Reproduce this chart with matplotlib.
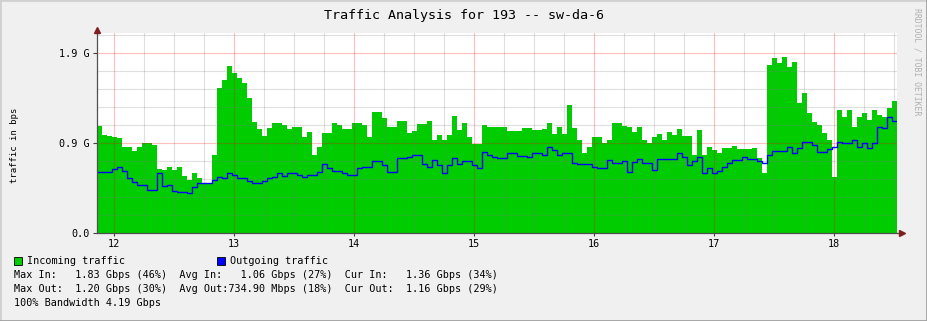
import matplotlib
matplotlib.use("Agg")
import matplotlib.pyplot as plt
import numpy as np

# data (Gbps), one sample every 2.5 minutes starting at 11:51
start_hour = 11.858
step_hour = 1 / 24

incoming = [1.11, 1.01, 1.00, 0.99, 0.98, 0.89, 0.89, 0.85, 0.89, 0.93,
            0.93, 0.91, 0.66, 0.65, 0.68, 0.65, 0.68, 0.59, 0.55, 0.62,
            0.57, 0.52, 0.52, 0.81, 1.50, 1.58, 1.73, 1.65, 1.60, 1.55,
            1.40, 1.15, 1.08, 1.00, 1.09, 1.14, 1.14, 1.12, 1.08, 1.10,
            1.10, 0.99, 1.04, 0.81, 0.89, 1.03, 1.03, 1.14, 1.12, 1.08,
            1.08, 1.14, 1.14, 1.12, 0.99, 1.25, 1.25, 1.19, 1.10, 1.10,
            1.16, 1.16, 1.03, 1.05, 1.13, 1.13, 1.16, 0.96, 1.01, 0.96,
            1.01, 1.21, 1.07, 1.14, 0.99, 0.92, 0.92, 1.12, 1.10, 1.10,
            1.10, 1.10, 1.05, 1.05, 1.05, 1.09, 1.09, 1.07, 1.07, 1.08,
            1.14, 1.02, 1.10, 1.02, 1.32, 1.09, 0.96, 0.83, 0.89, 0.99,
            0.99, 0.93, 0.96, 1.14, 1.14, 1.11, 1.10, 1.04, 1.10, 0.96,
            0.93, 0.99, 1.02, 0.96, 1.04, 1.01, 1.08, 1.00, 1.00, 0.81,
            1.07, 0.81, 0.89, 0.86, 0.83, 0.88, 0.88, 0.90, 0.87, 0.87,
            0.87, 0.88, 0.78, 0.62, 1.74, 1.81, 1.76, 1.82, 1.72, 1.77,
            1.34, 1.45, 1.24, 1.15, 1.12, 1.03, 0.96, 0.58, 1.27, 1.20,
            1.27, 1.10, 1.20, 1.24, 1.17, 1.27, 1.22, 1.20, 1.29, 1.36]

outgoing = [0.63, 0.63, 0.63, 0.66, 0.68, 0.64, 0.57, 0.53, 0.50, 0.50,
            0.44, 0.44, 0.62, 0.49, 0.50, 0.43, 0.42, 0.42, 0.41, 0.48,
            0.52, 0.52, 0.52, 0.55, 0.58, 0.57, 0.62, 0.60, 0.57, 0.57,
            0.54, 0.52, 0.52, 0.54, 0.57, 0.58, 0.62, 0.59, 0.62, 0.62,
            0.60, 0.58, 0.60, 0.60, 0.63, 0.71, 0.67, 0.64, 0.64, 0.62,
            0.60, 0.60, 0.67, 0.68, 0.68, 0.74, 0.74, 0.70, 0.63, 0.63,
            0.78, 0.78, 0.79, 0.81, 0.81, 0.71, 0.68, 0.75, 0.70, 0.62,
            0.70, 0.78, 0.71, 0.74, 0.74, 0.70, 0.67, 0.84, 0.81, 0.79,
            0.78, 0.78, 0.83, 0.83, 0.80, 0.80, 0.79, 0.83, 0.83, 0.81,
            0.89, 0.86, 0.81, 0.83, 0.83, 0.72, 0.71, 0.71, 0.71, 0.68,
            0.67, 0.67, 0.75, 0.72, 0.72, 0.74, 0.63, 0.73, 0.77, 0.72,
            0.72, 0.65, 0.77, 0.77, 0.77, 0.77, 0.83, 0.79, 0.70, 0.74,
            0.79, 0.62, 0.67, 0.62, 0.64, 0.68, 0.72, 0.75, 0.75, 0.79,
            0.77, 0.77, 0.74, 0.72, 0.81, 0.85, 0.85, 0.85, 0.89, 0.83,
            0.88, 0.94, 0.94, 0.91, 0.84, 0.84, 0.87, 0.89, 0.94, 0.93,
            0.93, 0.96, 0.89, 0.93, 0.88, 0.93, 1.10, 1.09, 1.20, 1.16]

hour_ticks = [12, 13, 14, 15, 16, 17, 18]
y_major = [0.0, 0.931, 1.861]
y_labels = ["0.0", "0.9 G", "1.9 G"]

legend_lines = [
    "Max In:   1.83 Gbps (46%)  Avg In:   1.06 Gbps (27%)  Cur In:   1.36 Gbps (34%)",
    "Max Out:  1.20 Gbps (30%)  Avg Out:734.90 Mbps (18%)  Cur Out:  1.16 Gbps (29%)",
    "100% Bandwidth 4.19 Gbps",
]

W, H = 927, 321
mono = "DejaVu Sans Mono"
plt.rcParams['font.family'] = mono

fig = plt.figure(figsize=(W / 100, H / 100), dpi=100)
fig.patch.set_facecolor("#f0f0f0")

def fx(px):
    return px / W

def fy(py):
    return 1 - py / H

ax = fig.add_axes([fx(97), fy(233), fx(897) - fx(97), fy(33) - fy(233)])
ax.set_facecolor("white")

t = start_hour + np.arange(len(incoming) + 1) * step_hour
inc = np.append(incoming, incoming[-1])
out = np.append(outgoing, outgoing[-1])

ax.fill_between(t, 0, inc, step="post", color="#00cc00", lw=0, zorder=2)
ax.step(t, out, where="post", color="#0000ff", lw=1.0, zorder=4)

ax.set_xlim(start_hour, t[-1])
ax.set_ylim(0, 2.068)

# grid drawn on top of the area, like rrdtool
for xv in np.arange(12.0, 18.6, 0.25):
    major = abs(xv - round(xv)) < 1e-6
    ax.axvline(xv, color=(1, 0, 0, 0.25) if major else (0.5, 0.5, 0.5, 0.25),
               lw=0.8, zorder=3)
for k in range(1, 12):
    yv = k * 0.1861
    major = k % 5 == 0
    ax.axhline(yv, color=(1, 0, 0, 0.25) if major else (0.5, 0.5, 0.5, 0.25),
               lw=0.8, zorder=3)

ax.set_xticks(hour_ticks)
ax.set_xticklabels([str(h) for h in hour_ticks])
ax.set_yticks(y_major)
ax.set_yticklabels(y_labels)
ax.tick_params(axis="both", labelsize=7.3, colors="#404040", labelcolor="black",
               length=3, width=0.8, pad=2)
ax.tick_params(axis="x", length=2)

for s in ["top", "right"]:
    ax.spines[s].set_visible(False)
for s in ["left", "bottom"]:
    ax.spines[s].set_color("#505050")
    ax.spines[s].set_linewidth(0.9)
    ax.spines[s].set_zorder(5)

# axis arrows
ax.plot([1.0, 1.005], [0, 0], transform=ax.transAxes, color="#505050",
        lw=0.9, clip_on=False, zorder=5)
ax.plot([1.006], [0], transform=ax.transAxes, marker=">", color="#7f1f1f",
        markersize=4, clip_on=False, zorder=6)
ax.plot([0, 0], [1.0, 1.01], transform=ax.transAxes, color="#505050",
        lw=0.9, clip_on=False, zorder=5)
ax.plot([0], [1.015], transform=ax.transAxes, marker="^", color="#7f1f1f",
        markersize=4, clip_on=False, zorder=6)

fig.text(0.5, fy(16), "Traffic Analysis for 193 -- sw-da-6", ha="center",
         va="center", fontsize=9.6)
fig.text(fx(15), fy(145), "traffic in bps", rotation=90, ha="center",
         va="center", fontsize=6.5)
fig.text(fx(917), fy(8), "RRDTOOL / TOBI OETIKER", rotation=270, ha="center",
         va="top", fontsize=5.9, color="#b0b0b0")

# legend
for sx, col, label in [(14, "#00cc00", "Incoming traffic"),
                       (217, "#0000ff", "Outgoing traffic")]:
    fig.patches.append(plt.Rectangle((fx(sx), fy(265)), 8 / W, 8 / H,
                                     transform=fig.transFigure,
                                     facecolor=col, edgecolor="black", lw=0.6))
    fig.text(fx(sx + 13), fy(261), label, ha="left", va="center", fontsize=7.3)
for i, line in enumerate(legend_lines):
    fig.text(fx(14), fy(275 + 14 * i), line, ha="left", va="center", fontsize=7.3)

# frame
fig.add_artist(plt.Line2D([0, 0, 1], [0, 1, 1], transform=fig.transFigure,
                          color="#d0d0d0", lw=2))
fig.add_artist(plt.Line2D([0, 1, 1], [0, 0, 1], transform=fig.transFigure,
                          color="#a0a0a0", lw=2))

fig.savefig("out.png", dpi=100, facecolor=fig.get_facecolor())
